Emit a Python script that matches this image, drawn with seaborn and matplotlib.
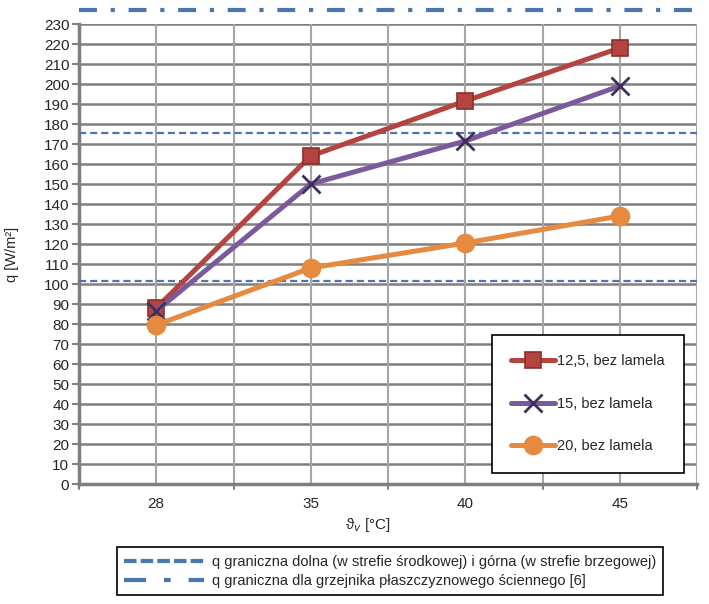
import matplotlib
matplotlib.use("Agg")
import matplotlib.pyplot as plt
import seaborn as sns
import pandas as pd
import numpy as np
from matplotlib.lines import Line2D

sns.set_theme(style="white")
plt.rcParams['font.family'] = ['Liberation Sans', 'DejaVu Sans']

categories = ["28", "35", "40", "45"]
s125 = [88, 164, 191.5, 218]
s15 = [86.5, 150, 171.5, 199]
s20 = [79.5, 108, 120.5, 134]
series_names = ["12,5, bez lamela", "15, bez lamela", "20, bez lamela"]
q_lower = 101.5
q_upper = 175.5
q_wall = 237
yticks = list(range(0, 231, 10))
ref_labels = ["q graniczna dolna (w strefie środkowej) i górna (w strefie brzegowej)",
              "q graniczna dla grzejnika płaszczyznowego ściennego [6]"]

fig = plt.figure(figsize=(7.09, 6.04), dpi=100)
ax = fig.add_axes([79/709, 1-484/604, (697-79)/709, (484-24)/604])

xpos = np.arange(len(categories))
colors = ["#B5433F", "#7A5A9C", "#E58A3E"]
edges = ["#8A302C", "#3F2F5A", "#E58A3E"]
markers = ["s", "x", "o"]
sizes = [12, 13, 13]
handles = []
for vals, name, c, ec, m, ms in zip([s125, s15, s20], series_names, colors, edges, markers, sizes):
    df = pd.DataFrame({"x": xpos, "y": vals})
    sns.lineplot(data=df, x="x", y="y", ax=ax, color=c, lw=3.6, marker=m,
                 markersize=ms, markeredgecolor=ec,
                 markeredgewidth=1.2 if m != "x" else 2.0, zorder=5, legend=False)
    handles.append(Line2D([], [], color=c, lw=3.6, marker=m, markersize=ms,
                          markeredgecolor=ec,
                          markeredgewidth=1.2 if m != "x" else 2.0, label=name))

blue = "#4A76AC"
ax.axhline(q_lower, color=blue, lw=1.6, ls=(0, (3.2, 1.8)), zorder=4)
ax.axhline(q_upper, color=blue, lw=1.6, ls=(0, (3.2, 1.8)), zorder=4)
ax.plot([-0.5, 3.5], [q_wall, q_wall], color=blue, lw=3, ls=(0, (4.3, 3.3, 1.0, 3.3)),
        clip_on=False, zorder=4)

ax.set_xlim(-0.5, 3.5)
ax.set_ylim(0, 230)
ax.set_yticks(yticks)
ax.set_yticklabels([str(v) for v in yticks], fontsize=11)
ax.set_xticks(xpos)
ax.set_xticklabels(categories, fontsize=11)
ax.tick_params(axis='x', length=0, pad=9)
ax.tick_params(axis='y', length=5, width=1.5, color="#808080", pad=2, left=True)

# gridlines
for v in yticks:
    ax.axhline(v, color="#7F7F7F", lw=1.8, zorder=1)
for xv in np.arange(-0.5, 3.6, 0.5):
    ax.axvline(xv, color="#A6A6A6", lw=1.5, zorder=1)
# boundary ticks on x
for xv in [-0.5, 0.5, 1.5, 2.5, 3.5]:
    ax.plot([xv, xv], [0, -2.5], color="#808080", lw=1.5, clip_on=False)

for side in ["top", "right"]:
    ax.spines[side].set_visible(False)
ax.spines["left"].set_color("#7F7F7F")
ax.spines["left"].set_linewidth(2.5)
ax.spines["bottom"].set_color("#7F7F7F")
ax.spines["bottom"].set_linewidth(2.5)

ax.set_xlabel("ϑ$_v$ [°C]", fontsize=11)
ax.xaxis.set_label_coords((368-79)/618, -0.07)
ax.set_ylabel("q [W/m²]", fontsize=10.5)
ax.yaxis.set_label_coords((19-79)/618, 0.5)

leg = ax.legend(handles=handles, loc="lower right", bbox_to_anchor=((684-79)/618, 11/460),
                borderaxespad=0, fontsize=10.5, frameon=True, fancybox=False,
                edgecolor="black", labelspacing=1.95, handlelength=3.0,
                handletextpad=0.1, borderpad=1.35, framealpha=1)
leg.get_frame().set_linewidth(1.2)

ref_handles = [Line2D([], [], color=blue, lw=3, ls=(0, (3.0, 1.0))),
               Line2D([], [], color=blue, lw=3, ls=(0, (5.3, 4.3, 1.6, 4.3)))]
fleg = fig.legend(handles=ref_handles, labels=ref_labels, loc="lower center",
                  bbox_to_anchor=(390/709, 9/604), borderaxespad=0, fontsize=10.5,
                  frameon=True, fancybox=False, edgecolor="black", handlelength=5.5,
                  labelspacing=0.35, borderpad=0.5, handletextpad=0.5, framealpha=1)
fleg.get_frame().set_linewidth(1.2)

fig.savefig("out.png", dpi=100)
